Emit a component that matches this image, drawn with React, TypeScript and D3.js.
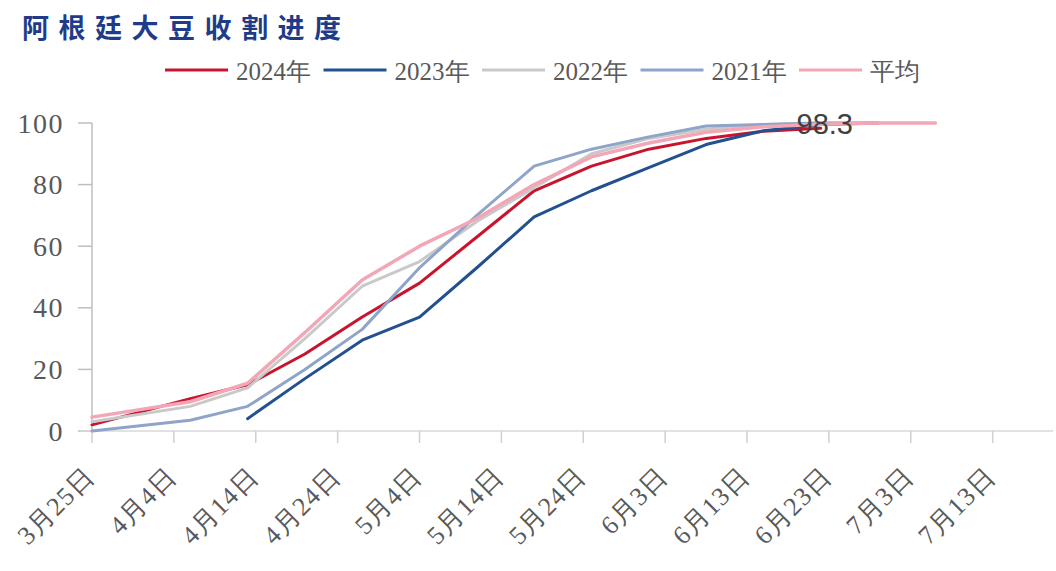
import React from "react";
import * as d3 from "d3";

const TITLE = "阿根廷大豆收割进度";

const dates = [
  "2024-03-25", "2024-04-06", "2024-04-13", "2024-04-20", "2024-04-27",
  "2024-05-04", "2024-05-11", "2024-05-18", "2024-05-25", "2024-06-01",
  "2024-06-08", "2024-06-15", "2024-06-22", "2024-06-29", "2024-07-06",
];

const s2024 = [2, 10.5, 15, 25, 37, 48, 63, 78, 86, 91.5, 95, 97.3, 98.3, null, null];
const s2023 = [null, null, 4, 17, 29.5, 37, 53, 69.5, 78, 85.5, 93, 97.5, 99.5, 100, null];
const s2022 = [3, 8, 14, 30, 47, 55, 68, 79, 90, 95, 98, 99.5, 100, 100, null];
const s2021 = [0, 3.5, 8, 20, 33, 53, 70, 86, 91.5, 95.5, 99, 99.5, 100, 100, null];
const sAvg = [4.5, 9.5, 15.5, 32, 49, 60, 69, 80, 89, 93.5, 97, 98.8, 99.6, 100, 100];

const seriesNames = ["2024年", "2023年", "2022年", "2021年", "平均"];
const seriesColors = ["#c8142c", "#23508f", "#c9c9c9", "#8ea4c8", "#f3a6b6"];
const seriesValues = [s2024, s2023, s2022, s2021, sAvg];

const xTickDates = [
  "2024-03-25", "2024-04-04", "2024-04-14", "2024-04-24", "2024-05-04", "2024-05-14",
  "2024-05-24", "2024-06-03", "2024-06-13", "2024-06-23", "2024-07-03", "2024-07-13",
];
const yTicks = [0, 20, 40, 60, 80, 100];
const xDomain = ["2024-03-25", "2024-07-20"];
const labelValue = 98.3;

export default function App() {
  const W = 1056, H = 571;
  const parse = d3.timeParse("%Y-%m-%d");
  const x = d3.scaleTime().domain(xDomain.map((d) => parse(d) as Date)).range([92, 1050]);
  const y = d3.scaleLinear().domain([0, 100]).range([431, 123]);

  const lineGen = d3
    .line<[Date, number | null]>()
    .defined((d) => d[1] !== null)
    .x((d) => x(d[0]))
    .y((d) => y(d[1] as number));

  const parsedDates = dates.map((d) => parse(d) as Date);

  const lastIdx = s2024.reduce((acc: number, v, i) => (v !== null ? i : acc), 0);
  const lblX = x(parsedDates[lastIdx]);
  const lblY = y(labelValue);

  return (
    <svg
      width={W}
      height={H}
      style={{ position: "absolute", left: 0, top: 0, background: "#fff" }}
    >
      <rect x={0} y={0} width={W} height={H} fill="#fff" />
      <text
        x={22}
        y={38}
        fontFamily="'Noto Sans CJK SC'"
        fontWeight={700}
        fontSize={27}
        letterSpacing={9.5}
        fill="#1f3c88"
      >
        {TITLE}
      </text>

      {seriesNames.map((n, i) => {
        const x0 = 165 + i * 158.5;
        return (
          <g key={n}>
            <line x1={x0} x2={x0 + 63} y1={70} y2={70} stroke={seriesColors[i]} strokeWidth={3} />
            <text
              x={x0 + 71}
              y={80}
              fontFamily="'Liberation Serif'"
              fontSize={25}
              fill="#595959"
            >
              {n}
            </text>
          </g>
        );
      })}

      <line x1={92} x2={92} y1={y(100)} y2={y(0)} stroke="#bfbfbf" strokeWidth={1.5} />
      {yTicks.map((t) => (
        <g key={t}>
          <line x1={78} x2={92} y1={y(t)} y2={y(t)} stroke="#bfbfbf" strokeWidth={1.5} />
          <text
            x={64}
            y={y(t) + 9.5}
            textAnchor="end"
            fontFamily="'Liberation Serif'"
            fontSize={28}
            letterSpacing={1.5}
            fill="#595959"
          >
            {t}
          </text>
        </g>
      ))}

      <line x1={80} x2={1053} y1={y(0)} y2={y(0)} stroke="#d9d9d9" strokeWidth={1.5} />
      {xTickDates.map((s) => {
        const d = parse(s) as Date;
        const px = x(d);
        const label = `${d.getMonth() + 1}月${d.getDate()}日`;
        return (
          <g key={s}>
            <line x1={px} x2={px} y1={y(0)} y2={y(0) + 12} stroke="#d0d0d0" strokeWidth={1.5} />
            <text
              transform={`translate(${px + 4},${478}) rotate(-45)`}
              textAnchor="end"
              fontFamily="'Liberation Serif'"
              fontSize={26}
              letterSpacing={1}
              fill="#595959"
            >
              {label}
            </text>
          </g>
        );
      })}

      {seriesValues.map((vals, i) => (
        <path
          key={seriesNames[i]}
          d={lineGen(parsedDates.map((d, j) => [d, vals[j]]) as [Date, number | null][]) || ""}
          fill="none"
          stroke={seriesColors[i]}
          strokeWidth={i === 4 ? 3.5 : 3}
          strokeLinejoin="round"
          strokeLinecap="round"
        />
      ))}

      <text
        x={lblX + 4}
        y={lblY + 6}
        textAnchor="middle"
        fontFamily="'Liberation Sans'"
        fontSize={29}
        fill="#404040"
      >
        {labelValue}
      </text>
    </svg>
  );
}
